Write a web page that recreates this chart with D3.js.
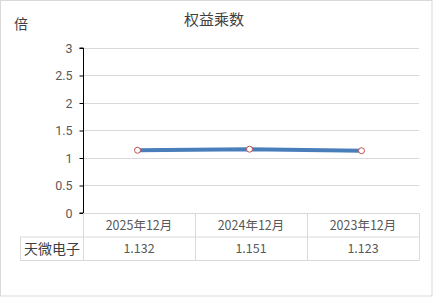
<!DOCTYPE html>
<html>
<head>
<meta charset="utf-8">
<script src="https://cdn.jsdelivr.net/npm/d3@7"></script>
<style>
  html, body { margin: 0; padding: 0; background: #fff; }
  svg { display: block; font-family: "Microsoft YaHei", "Noto Sans CJK SC", sans-serif; }
</style>
</head>
<body>
<div id="chart"></div>
<script>
// 数据
const categories = ["2025年12月", "2024年12月", "2023年12月"];
const seriesName = "天微电子";
const values = [1.132, 1.151, 1.123];
const yTicks = [0, 0.5, 1, 1.5, 2, 2.5, 3];

const width = 433, height = 297;
const plot = { left: 83, right: 419, top: 47.5, bottom: 212.5 };
const rowH = 23.5;

const svg = d3.select("#chart").append("svg")
    .attr("width", width)
    .attr("height", height);

// 外边框
svg.append("rect")
    .attr("x", 0.5).attr("y", 0.5)
    .attr("width", width - 1.5).attr("height", height - 1.5)
    .attr("fill", "#fff")
    .attr("stroke", "#d9d9d9");

// 标题 & 单位
svg.append("text")
    .attr("x", 214).attr("y", 25)
    .attr("text-anchor", "middle")
    .attr("font-size", 15)
    .attr("fill", "#404040")
    .text("权益乘数");
svg.append("text")
    .attr("x", 14).attr("y", 29)
    .attr("font-size", 14)
    .attr("fill", "#404040")
    .text("倍");

const x = d3.scaleBand()
    .domain(categories)
    .range([plot.left, plot.right]);
const y = d3.scaleLinear()
    .domain([0, 3])
    .range([plot.bottom, plot.top]);

// 网格线
svg.append("g").selectAll("line")
    .data(yTicks.filter(d => d > 0))
    .join("line")
    .attr("x1", plot.left).attr("x2", plot.right)
    .attr("y1", d => Math.round(y(d)) + 0.5)
    .attr("y2", d => Math.round(y(d)) + 0.5)
    .attr("stroke", "#d9d9d9");

// y 轴
const yAxis = svg.append("g")
    .attr("transform", `translate(${plot.left + 0.5},0.5)`)
    .call(d3.axisLeft(y).tickValues(yTicks).tickSize(4).tickFormat(d3.format("")));
yAxis.select(".domain").attr("stroke", "#000").attr("d", `M-4,${plot.top}H0V${plot.bottom}H-4`);
yAxis.selectAll(".tick line").attr("stroke", "#000");
yAxis.selectAll(".tick text")
    .attr("x", -11)
    .attr("fill", "#595959")
    .attr("font-size", 12.5)
    .attr("font-family", "Roboto, 'Noto Sans', sans-serif");

// 数据表
const table = svg.append("g").attr("stroke", "#d9d9d9").attr("fill", "none");
const tTop = Math.round(plot.bottom) + 0.5;
table.append("line").attr("x1", plot.left).attr("x2", plot.right).attr("y1", tTop).attr("y2", tTop);
table.append("line").attr("x1", 20).attr("x2", plot.right).attr("y1", tTop + rowH).attr("y2", tTop + rowH);
table.append("line").attr("x1", 20).attr("x2", plot.right).attr("y1", tTop + 2 * rowH).attr("y2", tTop + 2 * rowH);
table.append("line").attr("x1", 20.5).attr("x2", 20.5).attr("y1", tTop + rowH).attr("y2", tTop + 2 * rowH);
table.selectAll(".v")
    .data(categories.map(c => x(c)).concat([plot.right]))
    .join("line")
    .attr("x1", d => Math.round(d) + 0.5).attr("x2", d => Math.round(d) + 0.5)
    .attr("y1", tTop).attr("y2", tTop + 2 * rowH);

svg.append("g").selectAll("text")
    .data(categories)
    .join("text")
    .attr("x", d => x(d) + x.bandwidth() / 2)
    .attr("y", tTop + rowH / 2 + 4.5)
    .attr("text-anchor", "middle")
    .attr("font-size", 12.5)
    .attr("fill", "#595959")
    .text(d => d);

svg.append("text")
    .attr("x", 52).attr("y", tTop + rowH * 1.5 + 5)
    .attr("text-anchor", "middle")
    .attr("font-size", 14)
    .attr("fill", "#404040")
    .text(seriesName);

svg.append("g").selectAll("text")
    .data(values)
    .join("text")
    .attr("x", (d, i) => x(categories[i]) + x.bandwidth() / 2)
    .attr("y", tTop + rowH * 1.5 + 4.5)
    .attr("text-anchor", "middle")
    .attr("font-size", 12.5)
    .attr("fill", "#595959")
    .text(d => d3.format(".3f")(d));

// 折线
const cx = (d, i) => x(categories[i]) + x.bandwidth() / 2 - 1.5;
svg.append("path")
    .datum(values)
    .attr("fill", "none")
    .attr("stroke", "#4a7ebb")
    .attr("stroke-width", 4)
    .attr("d", d3.line().x(cx).y(d => y(d)));

svg.append("g").selectAll("circle")
    .data(values)
    .join("circle")
    .attr("cx", cx)
    .attr("cy", d => y(d))
    .attr("r", 3)
    .attr("fill", "#fff")
    .attr("stroke", "#c0504d")
    .attr("stroke-width", 1);
</script>
</body>
</html>
